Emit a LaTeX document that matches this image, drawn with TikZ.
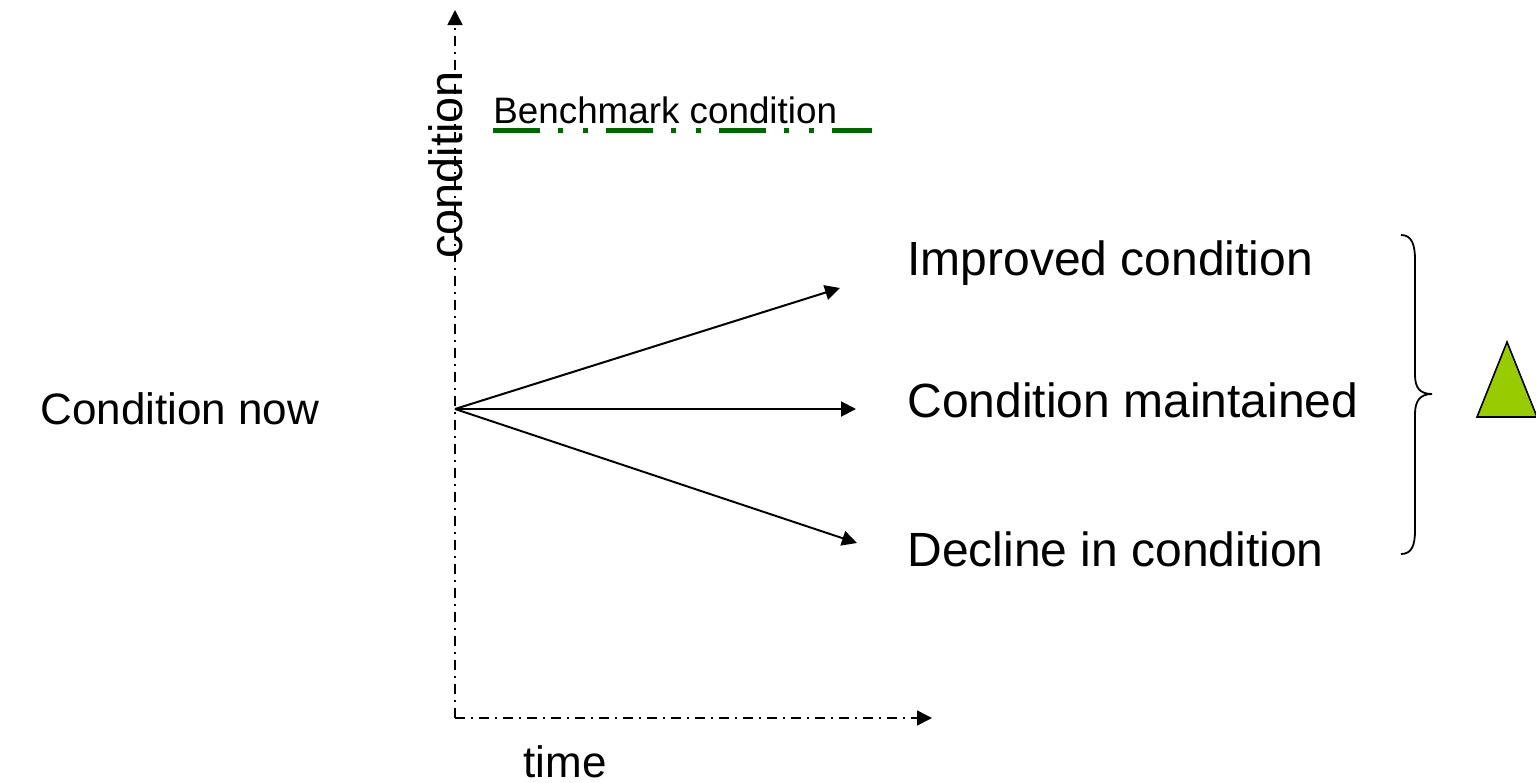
\documentclass[tikz,border=0pt]{standalone}
\usepackage{fontspec}
\setmainfont{Liberation Sans}
\usetikzlibrary{arrows.meta}
\definecolor{benchgreen}{RGB}{0,102,0}
\definecolor{trigreen}{RGB}{153,204,0}
\begin{document}
\begin{tikzpicture}[x=0.5pt,y=-0.5pt]
  \tikzstyle{axis}=[line width=0.8pt, dash pattern=on 5pt off 3pt on 1pt off 3pt, -{Triangle[length=7.5pt,width=7.5pt]}]
  \tikzstyle{trend}=[line width=1pt, -{Triangle[length=7.5pt,width=7.5pt]}]
  \tikzstyle{bigtext}=[font=\fontsize{24}{28}\selectfont, inner sep=0pt, anchor=west]
  \useasboundingbox (0,0) rectangle (1536,782);

  % Axes
  \coordinate (o) at (455,718);
  \coordinate (ytop) at (455,10);
  \coordinate (xend) at (932,718);
  \coordinate (now) at (455,409);
  \draw[axis] (o) -- (ytop);
  \draw[axis] (o) -- (xend);
  \node[font=\fontsize{23.4}{26}\selectfont, rotate=90, inner sep=0pt] (ylab) at (446,165) {condition};
  \node[font=\fontsize{22}{26}\selectfont, inner sep=0pt] (xlab) at (565,762) {time};

  % Benchmark
  \node[font=\fontsize{18.4}{22}\selectfont, inner sep=0pt, anchor=base west] (bench) at (493,123) {Benchmark condition};
  \coordinate (b1) at (493,130);
  \coordinate (b2) at (872,130);
  \draw[benchgreen, line width=2.5pt, dash pattern=on 23.5pt off 9pt on 2.5pt off 10pt on 2.5pt off 9pt] (b1) -- (b2);

  % Starting point and outcomes
  \node[font=\fontsize{22}{26}\selectfont, inner sep=0pt, anchor=west] (now-lab) at (40,409) {Condition now};
  \coordinate (up) at (840,288);
  \coordinate (flat) at (856,409);
  \coordinate (down) at (857,543);
  \draw[trend] (now) -- (up);
  \draw[trend] (now) -- (flat);
  \draw[trend] (now) -- (down);
  \node[bigtext] (improved) at (907,263) {Improved condition};
  \node[bigtext] (maintained) at (907,400) {Condition maintained};
  \node[bigtext] (decline) at (907,549) {Decline in condition};

  % Brace and triangle
  \draw[line width=0.9pt] (1401,235) .. controls (1412,235) and (1415,245) .. (1415,260) -- (1415,375)
    .. controls (1415,388) and (1420,394) .. (1432,394)
    .. controls (1420,394) and (1415,401) .. (1415,414) -- (1415,530)
    .. controls (1415,545) and (1412,554) .. (1401,554);
  \draw[fill=trigreen, line width=0.8pt] (1507,342) -- (1537,417) -- (1477,417) -- cycle;
\end{tikzpicture}
\end{document}
